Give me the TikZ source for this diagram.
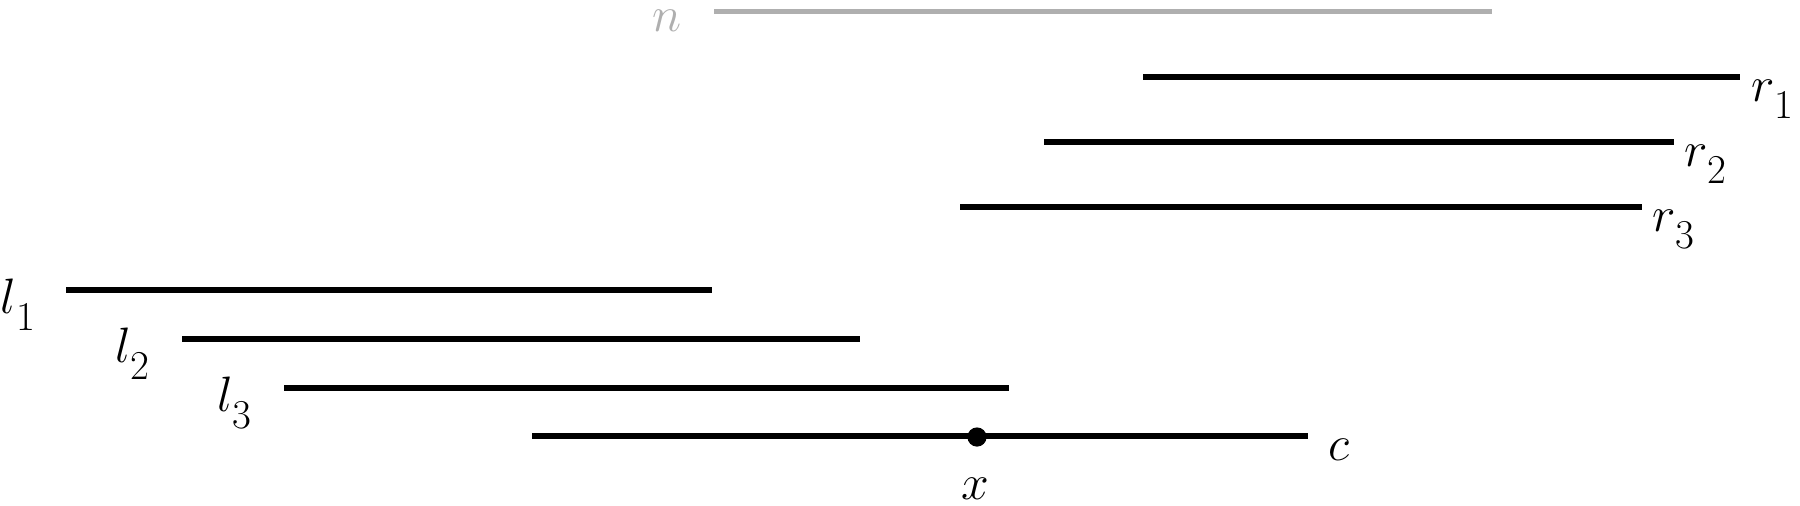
\documentclass[tikz,border=0pt]{standalone}
\definecolor{faint}{RGB}{175,175,175}
\newcommand{\lbl}[2]{$#1$\raisebox{-8.5pt}{\fontsize{20.5}{24}\selectfont #2}}
\begin{document}
\begin{tikzpicture}[x=0.5pt,y=-0.5pt,
  seg/.style={line width=2.8pt},
  faintseg/.style={line width=2.6pt, draw=faint},
  lab/.style={anchor=base west, inner sep=0pt, outer sep=0pt, font=\fontsize{31.25}{36}\selectfont}]
\useasboundingbox (0,0) rectangle (1800,505);
% endpoints
\coordinate (n0) at (714,11.5);  \coordinate (n1) at (1492,11.5);
\coordinate (r1a) at (1143,77);  \coordinate (r1b) at (1740,77);
\coordinate (r2a) at (1044,142); \coordinate (r2b) at (1674,142);
\coordinate (r3a) at (960,207);  \coordinate (r3b) at (1642,207);
\coordinate (l1a) at (66,290);   \coordinate (l1b) at (712,290);
\coordinate (l2a) at (182,339);  \coordinate (l2b) at (860,339);
\coordinate (l3a) at (284,388);  \coordinate (l3b) at (1009,388);
\coordinate (ca) at (532,436);   \coordinate (cb) at (1308,436);
\coordinate (xp) at (977,437);
% segments
\draw[faintseg] (n0) -- (n1);
\draw[seg] (r1a) -- (r1b);
\draw[seg] (r2a) -- (r2b);
\draw[seg] (r3a) -- (r3b);
\draw[seg] (l1a) -- (l1b);
\draw[seg] (l2a) -- (l2b);
\draw[seg] (l3a) -- (l3b);
\draw[seg] (ca) -- (cb);
\fill (xp) circle[radius=4.8pt];
% labels
\node[lab, text=faint] (nlab) at (652,31) {$n$};
\node[lab] (r1lab) at (1751,101) {\lbl{r}{1}};
\node[lab] (r2lab) at (1684,166) {\lbl{r}{2}};
\node[lab] (r3lab) at (1652,231) {\lbl{r}{3}};
\node[lab] (l1lab) at (1,313) {\lbl{l}{1}};
\node[lab] (l2lab) at (115,362) {\lbl{l}{2}};
\node[lab] (l3lab) at (217,411) {\lbl{l}{3}};
\node[lab] (clab) at (1328,460) {$c$};
\node[lab, anchor=base] (xlab) at (975,499) {$x$};
\end{tikzpicture}
\end{document}
